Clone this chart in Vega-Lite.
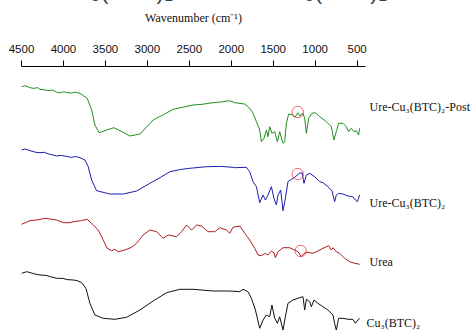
{
  "$schema": "https://vega.github.io/schema/vega-lite/v6.json",
  "width": 344,
  "height": 265,
  "autosize": {"type": "none"},
  "padding": {"left": 21, "top": 66, "right": 111, "bottom": 0},
  "background": "white",
  "config": {"view": {"stroke": null}},
  "datasets": {
    "spectra": [
      {"s":"G","w":4492,"t":244.3},{"s":"G","w":4450,"t":245.3},{"s":"G","w":4400,"t":243.5},{"s":"G","w":4350,"t":242.6},{"s":"G","w":4300,"t":243.4},{"s":"G","w":4274,"t":241.7},{"s":"G","w":4220,"t":241.2},{"s":"G","w":4180,"t":240.5},{"s":"G","w":4120,"t":240.9},{"s":"G","w":4075,"t":238.7},{"s":"G","w":4030,"t":238.2},{"s":"G","w":3990,"t":239.3},{"s":"G","w":3960,"t":238.5},{"s":"G","w":3900,"t":238},{"s":"G","w":3850,"t":238.8},{"s":"G","w":3798,"t":237.7},{"s":"G","w":3711,"t":232.7},{"s":"G","w":3658,"t":221},{"s":"G","w":3619,"t":206},{"s":"G","w":3568,"t":198.3},{"s":"G","w":3480,"t":201},{"s":"G","w":3393,"t":203.3},{"s":"G","w":3321,"t":200.3},{"s":"G","w":3202,"t":195},{"s":"G","w":3083,"t":197},{"s":"G","w":2925,"t":211},{"s":"G","w":2800,"t":216.5},{"s":"G","w":2687,"t":221.7},{"s":"G","w":2560,"t":224},{"s":"G","w":2449,"t":226},{"s":"G","w":2330,"t":226.8},{"s":"G","w":2211,"t":228.3},{"s":"G","w":2100,"t":229.2},{"s":"G","w":2012,"t":230.3},{"s":"G","w":1952,"t":228.3},{"s":"G","w":1833,"t":227},{"s":"G","w":1774,"t":222.7},{"s":"G","w":1734,"t":217.7},{"s":"G","w":1694,"t":209.3},{"s":"G","w":1655,"t":201},{"s":"G","w":1635,"t":189.3},{"s":"G","w":1604,"t":192.7},{"s":"G","w":1575,"t":201},{"s":"G","w":1556,"t":194.3},{"s":"G","w":1536,"t":204.3},{"s":"G","w":1509,"t":197.7},{"s":"G","w":1476,"t":199.3},{"s":"G","w":1444,"t":189.3},{"s":"G","w":1417,"t":199.3},{"s":"G","w":1377,"t":187.7},{"s":"G","w":1357,"t":189.3},{"s":"G","w":1337,"t":207.7},{"s":"G","w":1310,"t":217},{"s":"G","w":1258,"t":216},{"s":"G","w":1238,"t":213.7},{"s":"G","w":1199,"t":218.3},{"s":"G","w":1179,"t":215},{"s":"G","w":1139,"t":217.7},{"s":"G","w":1119,"t":212.7},{"s":"G","w":1099,"t":197.7},{"s":"G","w":1071,"t":212.7},{"s":"G","w":1032,"t":217.7},{"s":"G","w":992,"t":218.3},{"s":"G","w":940,"t":214.3},{"s":"G","w":913,"t":212.7},{"s":"G","w":861,"t":209.3},{"s":"G","w":801,"t":204.3},{"s":"G","w":770,"t":191},{"s":"G","w":742,"t":199.3},{"s":"G","w":714,"t":207.7},{"s":"G","w":663,"t":207.7},{"s":"G","w":623,"t":204.3},{"s":"G","w":595,"t":199.3},{"s":"G","w":563,"t":202.7},{"s":"G","w":532,"t":199.3},{"s":"G","w":504,"t":200.3},{"s":"G","w":476,"t":196},{"s":"G","w":464,"t":202.7},

      {"s":"B","w":4492,"t":181},{"s":"B","w":4450,"t":182},{"s":"B","w":4380,"t":180},{"s":"B","w":4330,"t":178.8},{"s":"B","w":4274,"t":178.3},{"s":"B","w":4220,"t":178.7},{"s":"B","w":4170,"t":177},{"s":"B","w":4120,"t":176},{"s":"B","w":4075,"t":175},{"s":"B","w":4020,"t":175.6},{"s":"B","w":3950,"t":174.5},{"s":"B","w":3900,"t":173.6},{"s":"B","w":3850,"t":174.5},{"s":"B","w":3798,"t":173.3},{"s":"B","w":3738,"t":171},{"s":"B","w":3699,"t":164.3},{"s":"B","w":3658,"t":151},{"s":"B","w":3599,"t":140.3},{"s":"B","w":3440,"t":137},{"s":"B","w":3282,"t":137},{"s":"B","w":3123,"t":140},{"s":"B","w":2964,"t":147.7},{"s":"B","w":2840,"t":153.5},{"s":"B","w":2726,"t":159.3},{"s":"B","w":2600,"t":161.5},{"s":"B","w":2488,"t":162.7},{"s":"B","w":2289,"t":164.3},{"s":"B","w":2120,"t":164.6},{"s":"B","w":1973,"t":163.7},{"s":"B","w":1952,"t":163.3},{"s":"B","w":1813,"t":163.7},{"s":"B","w":1774,"t":159.3},{"s":"B","w":1734,"t":149.3},{"s":"B","w":1694,"t":144.3},{"s":"B","w":1655,"t":128.3},{"s":"B","w":1615,"t":136},{"s":"B","w":1587,"t":131},{"s":"B","w":1556,"t":136},{"s":"B","w":1516,"t":144.3},{"s":"B","w":1485,"t":132.7},{"s":"B","w":1456,"t":126},{"s":"B","w":1437,"t":136},{"s":"B","w":1405,"t":141},{"s":"B","w":1377,"t":120.3},{"s":"B","w":1349,"t":132.7},{"s":"B","w":1318,"t":149.3},{"s":"B","w":1277,"t":151.7},{"s":"B","w":1238,"t":153.7},{"s":"B","w":1206,"t":156},{"s":"B","w":1179,"t":157.7},{"s":"B","w":1151,"t":158.3},{"s":"B","w":1127,"t":147.7},{"s":"B","w":1099,"t":156},{"s":"B","w":1059,"t":157.7},{"s":"B","w":1000,"t":154.3},{"s":"B","w":940,"t":149.3},{"s":"B","w":901,"t":148.3},{"s":"B","w":842,"t":144.3},{"s":"B","w":794,"t":140.3},{"s":"B","w":762,"t":129.3},{"s":"B","w":742,"t":136},{"s":"B","w":714,"t":137.7},{"s":"B","w":663,"t":137},{"s":"B","w":604,"t":135},{"s":"B","w":544,"t":134.3},{"s":"B","w":515,"t":131},{"s":"B","w":491,"t":129.3},{"s":"B","w":464,"t":136},

      {"s":"R","w":4492,"t":106.7},{"s":"R","w":4393,"t":110.3},{"s":"R","w":4300,"t":111.2},{"s":"R","w":4214,"t":112.7},{"s":"R","w":4140,"t":111.8},{"s":"R","w":4075,"t":111},{"s":"R","w":3996,"t":108.3},{"s":"R","w":3917,"t":108.3},{"s":"R","w":3877,"t":109.3},{"s":"R","w":3790,"t":110.2},{"s":"R","w":3711,"t":111.7},{"s":"R","w":3639,"t":106},{"s":"R","w":3580,"t":101},{"s":"R","w":3520,"t":91},{"s":"R","w":3473,"t":82.7},{"s":"R","w":3420,"t":80.3},{"s":"R","w":3381,"t":81.7},{"s":"R","w":3342,"t":79.3},{"s":"R","w":3262,"t":81},{"s":"R","w":3182,"t":83.7},{"s":"R","w":3123,"t":87.7},{"s":"R","w":3044,"t":96},{"s":"R","w":2964,"t":101},{"s":"R","w":2885,"t":99.3},{"s":"R","w":2806,"t":92.7},{"s":"R","w":2746,"t":96},{"s":"R","w":2646,"t":94.3},{"s":"R","w":2587,"t":99.3},{"s":"R","w":2527,"t":106},{"s":"R","w":2468,"t":101},{"s":"R","w":2408,"t":106},{"s":"R","w":2349,"t":105},{"s":"R","w":2270,"t":99.3},{"s":"R","w":2190,"t":99.3},{"s":"R","w":2131,"t":103.3},{"s":"R","w":2051,"t":101},{"s":"R","w":2012,"t":97.7},{"s":"R","w":1973,"t":103.7},{"s":"R","w":1893,"t":105},{"s":"R","w":1833,"t":97.7},{"s":"R","w":1774,"t":91},{"s":"R","w":1714,"t":82.7},{"s":"R","w":1675,"t":76},{"s":"R","w":1635,"t":75.3},{"s":"R","w":1587,"t":77.7},{"s":"R","w":1556,"t":76},{"s":"R","w":1516,"t":80},{"s":"R","w":1485,"t":78.3},{"s":"R","w":1468,"t":73.3},{"s":"R","w":1437,"t":79.3},{"s":"R","w":1377,"t":83.3},{"s":"R","w":1298,"t":83.3},{"s":"R","w":1238,"t":81},{"s":"R","w":1199,"t":79.3},{"s":"R","w":1158,"t":74.3},{"s":"R","w":1127,"t":77.7},{"s":"R","w":1080,"t":78.7},{"s":"R","w":1020,"t":77.7},{"s":"R","w":961,"t":80},{"s":"R","w":901,"t":82.7},{"s":"R","w":833,"t":85.3},{"s":"R","w":801,"t":81},{"s":"R","w":782,"t":83.3},{"s":"R","w":742,"t":79.3},{"s":"R","w":702,"t":77.7},{"s":"R","w":643,"t":72.7},{"s":"R","w":583,"t":69.3},{"s":"R","w":524,"t":67.7},{"s":"R","w":464,"t":66.7},

      {"s":"K","w":4492,"t":57.7},{"s":"K","w":4432,"t":59.3},{"s":"K","w":4350,"t":57.4},{"s":"K","w":4274,"t":56},{"s":"K","w":4200,"t":55.6},{"s":"K","w":4150,"t":54.3},{"s":"K","w":4075,"t":52.7},{"s":"K","w":4000,"t":52.6},{"s":"K","w":3950,"t":51.4},{"s":"K","w":3877,"t":51},{"s":"K","w":3830,"t":50.4},{"s":"K","w":3777,"t":48.3},{"s":"K","w":3726,"t":42.7},{"s":"K","w":3679,"t":27.7},{"s":"K","w":3619,"t":16},{"s":"K","w":3520,"t":12.7},{"s":"K","w":3381,"t":11.7},{"s":"K","w":3242,"t":13.7},{"s":"K","w":3083,"t":21},{"s":"K","w":2925,"t":30},{"s":"K","w":2765,"t":38.3},{"s":"K","w":2607,"t":41.7},{"s":"K","w":2449,"t":41.7},{"s":"K","w":2211,"t":40},{"s":"K","w":2012,"t":40},{"s":"K","w":1893,"t":39.3},{"s":"K","w":1853,"t":41.7},{"s":"K","w":1794,"t":39.3},{"s":"K","w":1754,"t":32.7},{"s":"K","w":1706,"t":21},{"s":"K","w":1655,"t":2.7},{"s":"K","w":1615,"t":11},{"s":"K","w":1575,"t":16},{"s":"K","w":1536,"t":14.3},{"s":"K","w":1509,"t":26},{"s":"K","w":1476,"t":12.7},{"s":"K","w":1444,"t":7.7},{"s":"K","w":1417,"t":14.3},{"s":"K","w":1377,"t":1},{"s":"K","w":1349,"t":14.3},{"s":"K","w":1318,"t":27.7},{"s":"K","w":1258,"t":31},{"s":"K","w":1199,"t":32.7},{"s":"K","w":1139,"t":34.3},{"s":"K","w":1119,"t":21},{"s":"K","w":1099,"t":31.7},{"s":"K","w":1059,"t":29.3},{"s":"K","w":1039,"t":24.3},{"s":"K","w":1008,"t":31},{"s":"K","w":961,"t":27.7},{"s":"K","w":901,"t":24.3},{"s":"K","w":842,"t":21},{"s":"K","w":782,"t":16},{"s":"K","w":762,"t":7.7},{"s":"K","w":742,"t":1},{"s":"K","w":714,"t":12.7},{"s":"K","w":663,"t":12.7},{"s":"K","w":604,"t":11.7},{"s":"K","w":544,"t":11.7},{"s":"K","w":515,"t":7.7},{"s":"K","w":484,"t":11},{"s":"K","w":464,"t":12.7}
    ],
    "labels": [
      {"w":345,"t":224,"label":"Ure-Cu₃(BTC)₂-Post"},
      {"w":345,"t":128,"label":"Ure-Cu₃(BTC)₂"},
      {"w":345,"t":69,"label":"Urea"},
      {"w":381,"t":8,"label":"Cu₃(BTC)₂"}
    ],
    "caption": [
      {"w":4036,"t":332.5,"label":"Cu₃(BTC)₂ and Ure-Cu₃(BTC)₂-Post"}
    ],
    "marks": [
      {"w":1202,"t":219},
      {"w":1202,"t":157},
      {"w":1167,"t":80}
    ]
  },
  "layer": [
    {
      "data": {"name": "spectra"},
      "mark": {"type": "line", "strokeWidth": 1, "clip": false},
      "encoding": {
        "x": {
          "field": "w", "type": "quantitative",
          "scale": {"domain": [400, 4500], "reverse": true, "nice": false, "zero": false},
          "axis": {
            "orient": "top",
            "title": "Wavenumber (cm⁻¹)",
            "titleFont": "Liberation Serif",
            "titleFontSize": 12,
            "titleFontWeight": "normal",
            "titleColor": "#111",
            "titlePadding": 19,
            "values": [4500,4250,4000,3750,3500,3250,3000,2750,2500,2250,2000,1750,1500,1250,1000,750,500],
            "format": "d",
            "labelExpr": "datum.value % 500 === 0 ? datum.label : ''",
            "labelFont": "Liberation Sans",
            "labelFontSize": 11.5,
            "labelColor": "#111",
            "labelPadding": 6,
            "labelFlush": false,
            "labelOverlap": false,
            "tickSize": {"condition": {"test": "datum.value % 500 === 0", "value": 6}, "value": 3},
            "tickColor": "#000",
            "tickWidth": 1,
            "domainColor": "#000",
            "domainWidth": 1,
            "grid": false
          }
        },
        "y": {
          "field": "t", "type": "quantitative",
          "scale": {"domain": [0, 265], "nice": false, "zero": false},
          "axis": null
        },
        "color": {
          "field": "s", "type": "nominal",
          "scale": {"domain": ["G","B","R","K"], "range": ["#1f8f1f","#1c1cb0","#b01c1c","#111111"]},
          "legend": null
        },
        "detail": {"field": "s"}
      }
    },
    {
      "data": {"name": "marks"},
      "mark": {"type": "point", "shape": "circle", "filled": false, "stroke": "#e8262a", "strokeWidth": 1, "size": 130},
      "encoding": {
        "x": {"field": "w", "type": "quantitative"},
        "y": {"field": "t", "type": "quantitative"}
      }
    },
    {
      "data": {"name": "labels"},
      "mark": {"type": "text", "align": "left", "baseline": "middle", "font": "Liberation Serif", "fontSize": 12, "color": "#111", "clip": false},
      "encoding": {
        "x": {"field": "w", "type": "quantitative"},
        "y": {"field": "t", "type": "quantitative"},
        "text": {"field": "label"}
      }
    },
    {
      "data": {"name": "caption"},
      "mark": {"type": "text", "align": "left", "baseline": "alphabetic", "font": "Liberation Sans", "fontSize": 24, "color": "#444", "clip": false},
      "encoding": {
        "x": {"field": "w", "type": "quantitative"},
        "y": {"field": "t", "type": "quantitative"},
        "text": {"field": "label"}
      }
    }
  ]
}
